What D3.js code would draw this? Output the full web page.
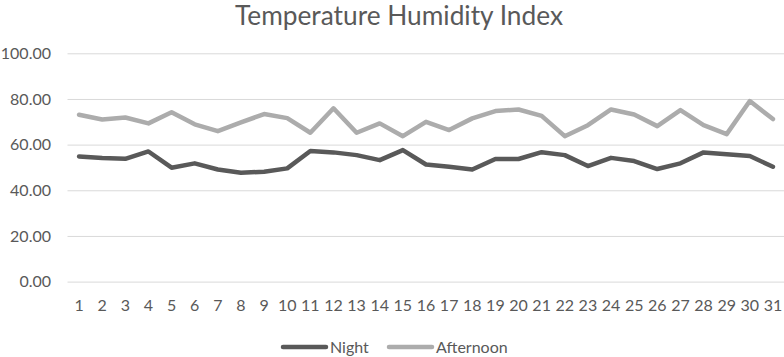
<!DOCTYPE html>
<html>
<head>
<meta charset="utf-8">
<script src="https://cdn.jsdelivr.net/npm/d3@7"></script>
<style>
  html, body { margin: 0; padding: 0; background: #ffffff; }
  svg { display: block; }
  text { font-family: Lato, "Open Sans", sans-serif; fill: #595959; }
</style>
</head>
<body>
<svg id="chart" width="784" height="357"></svg>
<script>
const days = d3.range(1, 32).map(String);
const night = [54.8, 54.1, 53.8, 57.0, 49.9, 51.8, 49.1, 47.7, 48.1, 49.6,
               57.2, 56.6, 55.4, 53.2, 57.6, 51.3, 50.3, 49.1, 53.7, 53.7,
               56.7, 55.4, 50.6, 54.2, 52.8, 49.3, 51.8, 56.6, 55.8, 55.0, 50.3];
const afternoon = [73.1, 71.0, 71.9, 69.3, 74.2, 68.9, 65.9, 69.7, 73.4, 71.6,
                   65.2, 75.9, 65.2, 69.3, 63.7, 70.0, 66.4, 71.5, 74.7, 75.4,
                   72.6, 63.7, 68.5, 75.4, 73.2, 68.1, 75.1, 68.5, 64.6, 79.1, 71.2];
const yTicks = [0, 20, 40, 60, 80, 100];
const seriesNames = ["Night", "Afternoon"];
const seriesColors = ["#595959", "#acacac"];
const title = "Temperature Humidity Index";

const series = [
  { name: seriesNames[0], values: night, color: seriesColors[0] },
  { name: seriesNames[1], values: afternoon, color: seriesColors[1] }
];

const svg = d3.select("#chart");
const plot = { left: 67.5, right: 784.5, top: 53.3, bottom: 281.6 };

const x = d3.scaleBand().domain(days).range([plot.left, plot.right]).padding(0);
const y = d3.scaleLinear().domain([0, 100]).range([plot.bottom, plot.top]);
const cx = d => x(d) + x.bandwidth() / 2;

// Title
const t = svg.append("text")
  .attr("x", 399).attr("y", 25)
  .attr("text-anchor", "middle")
  .style("font-size", "22px")
  .text(title);
const tw = t.node().getComputedTextLength();
t.style("font-size", (22 * 328 / tw).toFixed(2) + "px");

// Y axis with gridlines
const yAxis = svg.append("g")
  .attr("transform", `translate(${plot.left},0)`)
  .call(d3.axisLeft(y).tickValues(yTicks).tickFormat(d3.format(".2f"))
    .tickSize(-(plot.right - plot.left)).tickPadding(16.5));
yAxis.select(".domain").remove();
yAxis.selectAll(".tick line").attr("stroke", "#d9d9d9").attr("stroke-width", 1);
yAxis.selectAll(".tick text").style("font-size", "16px").style("font-family", "Lato, sans-serif").attr("fill", "#595959");

// X axis
const xAxis = svg.append("g")
  .attr("transform", `translate(0,${plot.bottom})`)
  .call(d3.axisBottom(x).tickSize(0).tickPadding(18));
xAxis.select(".domain").remove();
xAxis.selectAll(".tick text").style("font-size", "16px").style("font-family", "Lato, sans-serif").attr("fill", "#595959");

// Lines
const line = d3.line().x((v, i) => cx(days[i])).y(v => y(v));
svg.selectAll("path.series")
  .data(series)
  .join("path")
  .attr("class", "series")
  .attr("fill", "none")
  .attr("stroke", d => d.color)
  .attr("stroke-width", 4.5)
  .attr("stroke-linejoin", "round")
  .attr("stroke-linecap", "round")
  .attr("d", d => line(d.values));

// Legend
const legendX = [283, 389];
const lg = svg.append("g").attr("transform", "translate(0,347)");
const items = lg.selectAll("g").data(series).join("g")
  .attr("transform", (d, i) => `translate(${legendX[i]},0)`);
items.append("line")
  .attr("x1", 0).attr("x2", 43).attr("y1", 0).attr("y2", 0)
  .attr("stroke", d => d.color).attr("stroke-width", 4.5).attr("stroke-linecap", "round");
items.append("text")
  .attr("x", 47).attr("y", 0).attr("dy", "0.35em")
  .style("font-size", "16px")
  .text(d => d.name);
</script>
</body>
</html>
